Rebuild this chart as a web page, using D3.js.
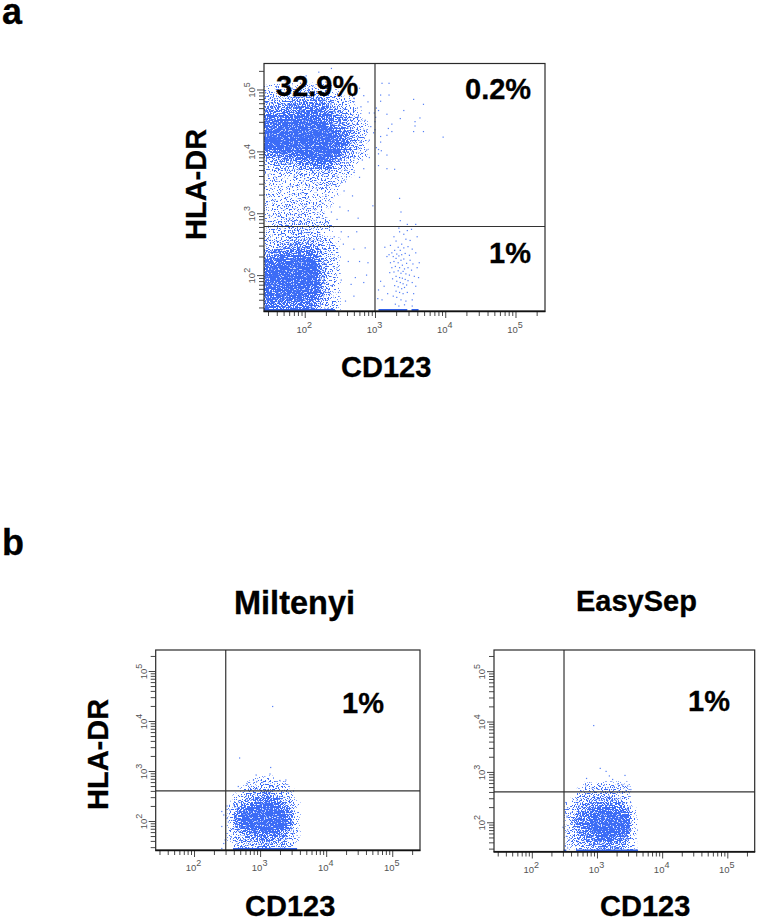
<!DOCTYPE html>
<html><head><meta charset="utf-8">
<script src="https://cdn.jsdelivr.net/npm/d3@7"></script>
<style>html,body{margin:0;background:#fff}svg{display:block}text{font-family:"Liberation Sans",Arial,sans-serif}</style>
</head><body><svg id="c" width="759" height="922"></svg>
<script>
// All values are log10(fluorescence).
// Dense clouds are estimated as density grids (digit 0-9 per 0.1 x 0.1 decade cell);
// isolated events are listed individually. The stipple on the grid is a fixed SVG filter texture, not data.
const decades=[2,3,4,5], mantissas=[2,3,4,5,6,7,8,9];
const logMin=1.42, logMax=5.42;

const aColStart=1.4, aRowTop=5.0;
const aDensity=[
"1111111111000000","2222233322100000","3333444443211000","4444555554321000","5556666665432100",
"6667778776543100","7778889887543210","7788999998654210","8889999999764310","8889999999764310",
"7788899999754210","5566788998643210","3344566776432100","2233344555321000","1122222333211000",
"1111112222110000","1111111122100000","1111111111100000","1111221111000000","1112211211000000",
"1112222110000000","1122222110000000","1122332211000000","1222333221000000","1122332210000000",
"2233444332100000","3344555432100000","4556666532100000","6677788642100000","7788888742100000",
"7888999842100000","8889999842100000","8889999842100000","7778888742100000","7777777642100000",
"6666666532100000","6655555432100000","6555555322100000","6555555322100000"];
const bColStart=2.4;
const b1RowTop=2.8;
const b1Density=[
"00000111000000","00001122110000","00012233221000","00123344321000","00234555532000",
"01345677653100","01457888864100","01578999975100","01689999985100","01578999975100",
"01467788864100","01345666653100","01344455442100","00333344332000","00333333332000"];
const b2RowTop=2.7;
const b2Density=[
"00001111111000","00011222221000","00022333321000","00133444432000","01234555553000",
"01345677765100","01356789987100","01456899998200","01456899998200","01356799998200",
"01345678886100","01344556654100","01233445443100","00233333443100"];

const aEvents=[[3.10,5.10],[3.20,5.10],[3.08,4.91],[3.20,4.91],[3.08,4.81],[3.55,4.84],[3.69,4.76],[3.41,4.66],[3.05,4.66],[3.17,4.60],
[3.64,4.54],[3.36,4.53],[3.57,4.48],[3.57,4.41],[3.24,4.44],[3.19,4.37],[3.55,4.32],[3.69,4.32],[3.24,4.32],[3.17,4.26],[3.97,4.23],
[3.08,4.24],[3.08,4.15],[3.02,4.06],[3.05,4.03],[3.09,4.01],[3.05,3.96],[3.17,3.94],[3.05,3.77],[3.17,3.72],[3.28,3.71],[3.35,3.24],
[3.37,3.02],[3.36,2.88],[3.34,2.76],[3.46,2.82],[3.58,2.82],
[3.02,4.70],[3.01,4.55],[2.99,4.62],[3.00,4.48],[2.98,4.30],[3.00,4.35],[2.97,3.12],
// lower-right cluster
[3.14,2.45],[3.17,2.30],[3.22,2.48],[3.27,2.62],[3.30,2.55],[3.35,2.70],[3.41,2.66],[3.46,2.72],[3.52,2.74],[3.60,2.62],[3.44,2.58],
[3.50,2.56],[3.38,2.50],[3.33,2.45],[3.28,2.40],[3.24,2.36],[3.20,2.33],[3.31,2.34],[3.36,2.40],[3.41,2.44],[3.47,2.46],[3.53,2.42],
[3.58,2.36],[3.26,2.30],[3.30,2.27],[3.34,2.31],[3.38,2.33],[3.43,2.35],[3.49,2.32],[3.27,2.22],[3.22,2.20],[3.33,2.20],[3.37,2.24],
[3.41,2.26],[3.45,2.19],[3.50,2.24],[3.54,2.18],[3.24,2.12],[3.29,2.14],[3.35,2.12],[3.39,2.16],[3.42,2.10],[3.47,2.12],[3.52,2.08],
[3.60,2.12],[3.63,2.20],[3.21,2.04],[3.27,2.05],[3.33,2.07],[3.37,2.03],[3.40,2.06],[3.44,2.02],[3.49,2.00],[3.56,1.98],
[3.30,1.98],[3.35,1.96],[3.39,1.95],[3.43,1.93],[3.47,1.91],[3.25,1.94],[3.31,1.90],[3.36,1.88],[3.40,1.86],[3.45,1.84],[3.53,1.88],
[3.58,1.82],[3.28,1.83],[3.33,1.81],[3.38,1.78],[3.42,1.80],[3.30,1.74],[3.35,1.72],[3.40,1.70],[3.46,1.72],[3.55,1.70],[3.26,1.66],
[3.31,1.64],[3.37,1.60],[3.44,1.58],[3.53,1.60],[3.29,1.53],[3.34,1.50],[3.42,1.52],[3.53,1.50],[3.13,1.82],[3.08,1.90],[3.05,1.76],
[3.10,1.60],[3.04,1.62],[3.18,1.70],[3.62,1.96],
// fringe of lower population and gaps
[2.42,2.62],[2.55,2.50],[2.70,2.42],[2.86,2.44],[2.90,2.20],[2.78,2.22],[2.62,2.22],[2.72,1.96],[2.84,1.88],[2.88,2.00],[2.66,1.85],
[2.70,1.66],[2.58,1.58],[2.48,1.72],[2.52,1.92],[2.46,2.12],[2.52,2.70],[2.62,2.62],[2.74,2.70],
// sparse population between the two clouds
[1.48,3.62],[1.60,3.55],[1.72,3.70],[1.85,3.60],[1.98,3.52],[2.10,3.64],[2.22,3.74],[2.34,3.68],[2.46,3.60],[2.58,3.70],[2.70,3.66],
[2.78,3.58],[2.84,3.72],[1.52,3.40],[1.66,3.36],[1.80,3.44],[1.94,3.32],[2.06,3.42],[2.18,3.38],[2.30,3.30],[2.44,3.44],[2.56,3.36],
[2.68,3.28],[1.46,3.18],[1.58,3.22],[1.74,3.12],[1.88,3.20],[2.02,3.14],[2.14,3.06],[2.26,3.16],[2.38,3.02],[2.50,3.10],[2.62,3.04],
[2.76,2.92],[1.50,2.96],[1.64,3.00],[1.78,2.92],[1.92,2.98],[2.04,2.90],[2.20,2.94],[2.32,2.86],[2.46,2.90],
// halo over the upper population
[1.60,5.05],[1.72,5.14],[1.82,5.02],[1.94,5.10],[2.02,5.22],[2.12,5.06],[2.20,5.28],[2.30,5.12],[2.38,5.34],[2.46,5.04],[2.54,5.16],
[2.62,4.98],[2.70,5.10],[2.78,5.02],[2.84,4.90],[2.90,4.80],[2.70,4.86],[2.80,4.72],[2.92,4.62],[2.86,4.50],[2.76,4.56],[2.94,4.40],
[2.84,4.34],[2.74,4.44],[2.92,4.18],[2.80,4.16],[2.88,4.02],[2.74,4.04],[2.92,3.90],[2.82,3.86],[2.70,3.90],[2.60,3.82],[2.50,3.86]];
const b1Events=[[3.19,4.29],[2.69,3.26],[3.16,3.07],[3.15,2.94],[2.94,2.92],[2.80,2.75],[2.67,2.69],[3.30,2.81],[3.39,2.82],[3.04,2.77],
[2.87,2.69],[2.95,2.79],[3.15,2.69],[3.25,2.69],[2.90,2.82],[2.42,2.19],[2.42,1.89],[2.45,2.12],[2.50,2.30],[2.47,1.62],[2.45,1.55],[2.42,1.45],
[2.52,1.98],[2.50,2.05],[2.54,2.22]];
const b2Events=[[2.95,3.92],[3.05,3.07],[3.14,3.01],[3.43,2.93],[2.84,2.87],[3.19,2.92],[3.24,2.85],[3.32,2.76],[3.38,2.75],[3.47,2.72],
[2.83,2.72],[2.93,2.69],[3.04,2.72],[3.17,2.69],[3.52,2.65],[2.53,2.39],[2.55,2.29],[2.54,2.12],[2.48,1.90],[2.55,1.85],[2.53,1.72],[2.58,1.65],[2.55,1.49]];
const aPile=[[1.42,2.43],[3.05,3.46],[3.52,3.62]], b1Pile=[[2.59,3.56]], b2Pile=[[2.49,2.53],[2.68,3.63]];

const svg=d3.select("#c");
const defs=svg.append("defs");
const f=defs.append("filter").attr("id","stipple").attr("filterUnits","userSpaceOnUse")
 .attr("x",0).attr("y",0).attr("width",759).attr("height",922).attr("color-interpolation-filters","sRGB");
f.append("feGaussianBlur").attr("in","SourceAlpha").attr("stdDeviation",1.7).attr("result","d");
f.append("feTurbulence").attr("type","fractalNoise").attr("baseFrequency",0.75).attr("numOctaves",2).attr("seed",7).attr("result","n");
f.append("feColorMatrix").attr("in","n").attr("type","matrix").attr("values","0 0 0 0 0 0 0 0 0 0 0 0 0 0 0 3.2 0 0 0 -1.1").attr("result","na");
f.append("feComposite").attr("in","d").attr("in2","na").attr("operator","arithmetic").attr("k1",0).attr("k2",5).attr("k3",-5).attr("k4",0.3).attr("result","t");
f.append("feComponentTransfer").attr("in","d").attr("result","mask").append("feFuncA").attr("type","linear").attr("slope",40).attr("intercept",-1);
f.append("feComposite").attr("in","t").attr("in2","mask").attr("operator","in").attr("result","t2");
f.append("feFlood").attr("flood-color","#3c6cf6").attr("result","col");
f.append("feComposite").attr("in","col").attr("in2","t2").attr("operator","in").attr("result","s");
f.append("feGaussianBlur").attr("in","s").attr("stdDeviation",0.35);

const xTicksMinor=[1,2,3,4,5].flatMap(d=>mantissas.map(m=>m*10**d)).filter(v=>Math.log10(v)>=logMin&&v<=2e5);
const majors=decades.map(d=>10**d);

function panel(o){
  const x=d3.scaleLog().domain([10**logMin,10**logMax]).range([o.l,o.r]);
  const y=d3.scaleLog().domain([10**logMin,10**logMax]).range([o.b,o.t]);
  const g=svg.append("g");
  const id="clip"+Math.round(o.l);
  defs.append("clipPath").attr("id",id).append("rect").attr("x",o.l).attr("y",o.t).attr("width",o.r-o.l).attr("height",o.b-o.t);
  const plot=g.append("g").attr("clip-path",`url(#${id})`);
  const cells=o.density.flatMap((row,i)=>row.split("").map((ch,j)=>({x:o.colStart+j*0.1,y:o.rowTop-i*0.1,v:+ch}))).filter(c=>c.v>0);
  plot.append("g").attr("filter","url(#stipple)").selectAll("rect").data(cells).join("rect")
    .attr("x",c=>x(10**c.x)).attr("y",c=>y(10**(c.y+0.1)))
    .attr("width",c=>x(10**(c.x+0.1))-x(10**c.x)+0.3).attr("height",c=>y(10**c.y)-y(10**(c.y+0.1))+0.3)
    .attr("fill","#000").attr("fill-opacity",c=>Math.min(1,c.v/7.5));
  plot.append("g").selectAll("rect").data(o.events).join("rect")
    .attr("x",d=>x(10**d[0])-0.6).attr("y",d=>y(10**d[1])-0.6).attr("width",1.2).attr("height",1.2)
    .attr("fill","#3f70f5").attr("fill-opacity",0.9);
  plot.append("g").selectAll("line").data(o.pile).join("line")
    .attr("x1",d=>x(10**d[0])).attr("x2",d=>x(10**d[1])).attr("y1",o.b-1).attr("y2",o.b-1)
    .attr("stroke","#3060e8").attr("stroke-width",2);
  // gates
  g.append("line").attr("x1",x(o.gx)).attr("x2",x(o.gx)).attr("y1",o.t).attr("y2",o.b).attr("stroke","#333").attr("stroke-width",1.2);
  g.append("line").attr("x1",o.l).attr("x2",o.r).attr("y1",y(o.gy)).attr("y2",y(o.gy)).attr("stroke","#333").attr("stroke-width",1.2);
  g.append("rect").attr("x",o.l).attr("y",o.t).attr("width",o.r-o.l).attr("height",o.b-o.t).attr("fill","none").attr("stroke","#2a2a2a").attr("stroke-width",1.2);
  // axes
  const sty=s=>{s.selectAll(".domain").remove();s.selectAll("line").attr("stroke","#333").attr("stroke-width",0.9);};
  g.append("g").attr("transform",`translate(0,${o.b})`).call(d3.axisBottom(x).tickValues(xTicksMinor).tickSize(5).tickFormat("")).call(sty);
  g.append("g").attr("transform",`translate(${o.l},0)`).call(d3.axisLeft(y).tickValues(xTicksMinor).tickSize(5).tickFormat("")).call(sty);
  const mx=g.append("g").attr("transform",`translate(0,${o.b})`).call(d3.axisBottom(x).tickValues(majors).tickSize(7).tickFormat("")).call(sty);
  const my=g.append("g").attr("transform",`translate(${o.l},0)`).call(d3.axisLeft(y).tickValues(majors).tickSize(7).tickFormat("")).call(sty);
  g.append("line").attr("x1",o.l-0.5).attr("x2",o.r+0.5).attr("y1",o.b+0.5).attr("y2",o.b+0.5).attr("stroke","#111").attr("stroke-width",1.6);
  const lab=(sel,exp)=>{sel.text("10").attr("font-size",9.5).attr("fill","#555").attr("text-anchor","middle");
    sel.append("tspan").attr("dy",-5).attr("font-size",9).text(exp);};
  mx.selectAll(".tick").each(function(d){d3.select(this).append("text").attr("y",o.xLab).attr("x",-1).call(lab,Math.round(Math.log10(d)));});
  my.selectAll(".tick").each(function(d){d3.select(this).append("text").attr("transform",`translate(-9,0) rotate(-90)`).call(lab,Math.round(Math.log10(d)));});
}
panel({l:264,r:545,t:63.5,b:311,gx:1000,gy:610,density:aDensity,colStart:aColStart,rowTop:aRowTop,events:aEvents,pile:aPile,xLab:22});
panel({l:155.7,r:420,t:650,b:850,gx:302,gy:400,density:b1Density,colStart:bColStart,rowTop:b1RowTop,events:b1Events,pile:b1Pile,xLab:21});
panel({l:494,r:754.7,t:650,b:851.5,gx:312,gy:400,density:b2Density,colStart:bColStart,rowTop:b2RowTop,events:b2Events,pile:b2Pile,xLab:21});

const labels=[
["a",2,24,36],["b",2,555,36],
["CD123",341,377,29],["CD123",245,916,29],["CD123",600,916,29],
["32.9%",276,96,29],["0.2%",465,99,29],["1%",489,263,29],["1%",342,713,29],["1%",688,711,29],
["Miltenyi",234,614,32.5],["EasySep",576,611,29]];
svg.append("g").selectAll("text").data(labels).join("text")
  .attr("x",d=>d[1]).attr("y",d=>d[2]).attr("font-size",d=>d[3]).attr("font-weight","bold").attr("fill","#000").attr("stroke","#000").attr("stroke-width",0.3).text(d=>d[0]);
const ylabels=[["HLA-DR",206,240],["HLA-DR",108,810]];
svg.append("g").selectAll("text").data(ylabels).join("text")
  .attr("transform",d=>`translate(${d[1]},${d[2]}) rotate(-90)`).attr("font-size",29).attr("font-weight","bold").attr("fill","#000").attr("stroke","#000").attr("stroke-width",0.3).text(d=>d[0]);
</script></body></html>
